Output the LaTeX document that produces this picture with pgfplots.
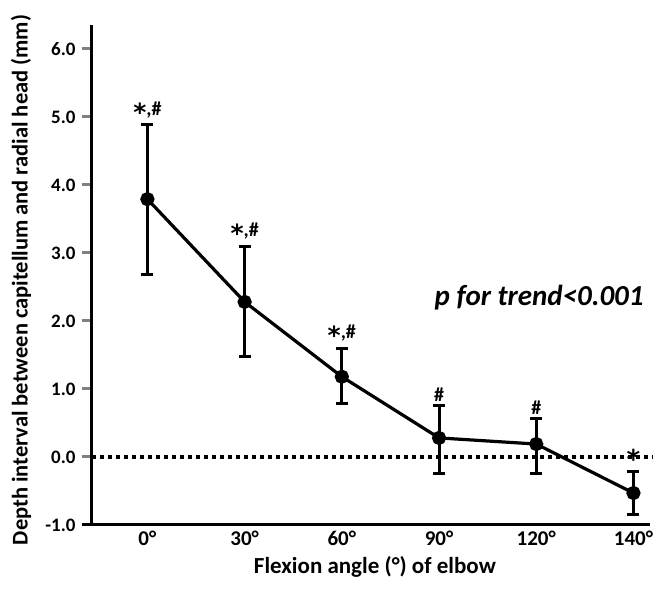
\documentclass[border=0pt]{standalone}
\usepackage{pgfplots}
\pgfplotsset{compat=1.18}
\usepackage{fontspec}
\setmainfont{Carlito}
\newfontfamily\symfont{DejaVu Sans}
\newcommand{\sigstar}{\raisebox{-6pt}{\symfont\bfseries\fontsize{25}{25}\selectfont *}}

\begin{document}
\begin{tikzpicture}
\begin{axis}[
  scale only axis, width=558pt, height=500pt,
  xmin=-0.57, xmax=5.17, ymin=-1, ymax=6.35,
  axis x line=bottom, axis y line=left,
  axis line style={-, line width=3pt},
  clip=false,
  xtick={0,1,2,3,4,5},
  xticklabels={0°,30°,60°,90°,120°,140°},
  major x tick style={draw=none},
  xticklabel style={font=\fontsize{21}{23}\selectfont\bfseries, yshift=8pt},
  ytick={-1,0,1,2,3,4,5,6},
  yticklabels={-1.0,0.0,1.0,2.0,3.0,4.0,5.0,6.0},
  major y tick style={line width=3pt},
  tick align=outside, major tick length=10pt,
  yticklabel style={font=\fontsize{19}{21}\selectfont\bfseries, xshift=-3pt},
  xlabel={Flexion angle (°) of elbow},
  ylabel={Depth interval between capitellum and radial head (mm)},
  xlabel style={font=\fontsize{23}{26}\selectfont\bfseries, at={(axis description cs:0.507,0)}, anchor=center, yshift=-42pt},
  ylabel style={font=\fontsize{22.5}{25}\selectfont\bfseries, at={(axis description cs:-0.127,0.49)}, anchor=center, rotate=0},
]
\addplot[line width=3.5pt, dash pattern=on 4pt off 4pt] coordinates {(-0.57,0) (5.2,0)};
\addplot[black, line width=3.2pt, mark=*, mark size=5.5pt,
  error bars/.cd, y dir=both, y explicit,
  error bar style={line width=3pt},
  error mark options={rotate=90, mark size=6pt, line width=3pt}]
  table[x=x, y=y, y error plus=ep, y error minus=em] {
x y ep em
0 3.79 1.09 1.11
1 2.28 0.81 0.81
2 1.18 0.41 0.40
3 0.28 0.48 0.52
4 0.19 0.38 0.43
5 -0.53 0.31 0.31
};
\node[anchor=south, font=\fontsize{20}{22}\selectfont\bfseries, inner sep=1pt] at (axis cs:0,4.92) {\sigstar,\#};
\node[anchor=south, font=\fontsize{20}{22}\selectfont\bfseries, inner sep=1pt] at (axis cs:1,3.13) {\sigstar,\#};
\node[anchor=south, font=\fontsize{20}{22}\selectfont\bfseries, inner sep=1pt] at (axis cs:2,1.63) {\sigstar,\#};
\node[anchor=south, font=\fontsize{20}{22}\selectfont\bfseries, inner sep=2pt] at (axis cs:3,0.78) {\#};
\node[anchor=south, font=\fontsize{20}{22}\selectfont\bfseries, inner sep=2pt] at (axis cs:4,0.59) {\#};
\node[anchor=south, inner sep=0pt, yshift=3pt] at (axis cs:5,-0.22) {{\symfont\bfseries\fontsize{26}{26}\selectfont *}};
\node[font=\fontsize{29}{32}\selectfont\bfseries\itshape] at (axis cs:4.03,2.34) {p for trend<0.001};
\end{axis}
\draw[line width=3pt] (1.5pt,0) -- (-10pt,0);
\path[use as bounding box] (-92pt,-67pt) rectangle (565pt,525pt);
\end{tikzpicture}
\end{document}
